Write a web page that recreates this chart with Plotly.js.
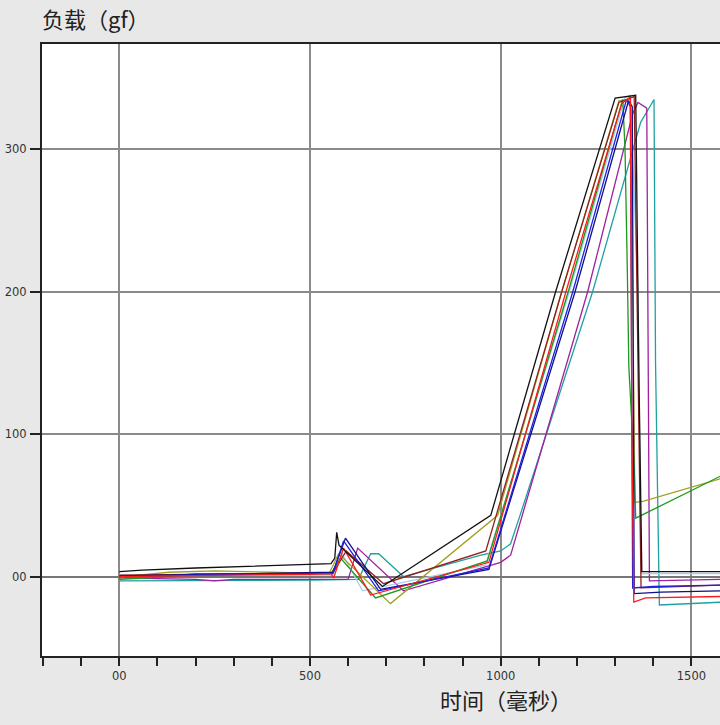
<!DOCTYPE html>
<html>
<head>
<meta charset="utf-8">
<script src="https://cdn.plot.ly/plotly-3.0.1.min.js"></script>
<style>html,body{margin:0;padding:0;background:#e8e8e8;}#chart{width:720px;height:725px;}</style>
</head>
<body>
<div id="chart"></div>
<script>
// Tick labels
const xTickVals = [0, 500, 1000, 1500];
const xTickText = ['00', '500', '1000', '1500'];
const yTickVals = [0, 100, 200, 300];
const yTickText = ['00', '100', '200', '300'];

// Series (time ms, load gf)
const blackT = [0, 60, 200, 410, 500, 555, 565, 570, 576, 690, 974, 1144, 1300, 1354, 1362, 1370, 1580];
const blackV = [3.5, 4.5, 6, 7.5, 8.5, 9, 13, 31, 22, -7, 43, 200, 336, 338, 150, 3.5, 3.5];

const oliveT = [0, 10, 130, 250, 400, 550, 575, 711, 992, 1160, 1310, 1340, 1346, 1352, 1375, 1580];
const oliveV = [-3, 0, 3, 4, 3, 2, 16, -19, 43, 200, 334, 335, 200, 52, 53, 69];

const greenT = [0, 80, 200, 400, 555, 580, 672, 965, 1177, 1320, 1326, 1332, 1336, 1350, 1354, 1580];
const greenV = [-2, -1, 2, 2, 2, 13, -15, 11, 200, 335, 300, 215, 147, 77, 41, 71];

const redT = [0, 100, 300, 500, 555, 562, 588, 659, 969, 1171, 1317, 1340, 1344, 1349, 1380, 1580];
const redV = [0, 0.5, 1, 1.5, 2, -1, 20, -13, 10, 200, 332, 337, 100, -18, -15, -14];

const blueT = [0, 150, 300, 500, 560, 588, 680, 969, 1189, 1330, 1340, 1346, 1400, 1580];
const blueV = [0, 1, 1.5, 2, 2, 25, -10, 6, 200, 335, 330, -8, -7, -6];

const navyT = [0, 200, 500, 560, 593, 685, 969, 1195, 1335, 1345, 1350, 1420, 1580];
const navyV = [0.5, 1.5, 2.5, 3, 27, -9, 5, 200, 334, 330, -12, -11, -10];

const darkredT = [0, 200, 500, 560, 595, 693, 961, 1160, 1310, 1350, 1360, 1368, 1580];
const darkredV = [1, 1.5, 2, 2.5, 18, -5, 18, 200, 333, 337, 150, -8, -6];

const tealT = [0, 200, 400, 500, 627, 659, 680, 745, 948, 1000, 1026, 1052, 1241, 1367, 1402, 1406, 1416, 1580];
const tealV = [-3, -3, -3, -2.5, -2, 16, 16, 0, 15, 18, 23, 44, 200, 319, 335, 150, -20, -18];

const purpleT = [0, 200, 250, 300, 480, 600, 625, 745, 1000, 1026, 1228, 1346, 1360, 1383, 1390, 1580];
const purpleV = [-1, -2, -3, -2, -2, -2, 20, -10, 10, 15, 200, 325, 333, 329, -3, -2];

const lightblueT = [0, 500, 560, 580, 638, 960, 1180, 1325, 1340, 1360, 1368, 1580];
const lightblueV = [1, 1, 1, 18, -10, 8, 200, 336, 338, 200, 2, 2];

const seriesList = [
  {t: tealT, v: tealV, c: '#20a0a0'},
  {t: purpleT, v: purpleV, c: '#a020a0'},
  {t: lightblueT, v: lightblueV, c: '#a8ccf0'},
  {t: oliveT, v: oliveV, c: '#a0a020'},
  {t: greenT, v: greenV, c: '#1a9a1a'},
  {t: darkredT, v: darkredV, c: '#902020'},
  {t: navyT, v: navyV, c: '#10108a'},
  {t: blueT, v: blueV, c: '#2020e0'},
  {t: redT, v: redV, c: '#ff1a1a'},
  {t: blackT, v: blackV, c: '#111111'}
];

const traces = seriesList.map(s => ({
  type: 'scatter', mode: 'lines', x: s.t, y: s.v,
  line: {color: s.c, width: 1.3}, showlegend: false, hoverinfo: 'skip'
}));

const tickFont = {family: 'DejaVu Sans', size: 11.5, color: '#333333'};
const cjk = "'Noto Sans CJK SC', sans-serif";

const layout = {
  width: 720, height: 725,
  paper_bgcolor: '#e8e8e8', plot_bgcolor: '#ffffff',
  margin: {l: 42, r: 0, t: 44, b: 69, pad: 0},
  xaxis: {
    range: [-202.7, 1575], tickmode: 'array', tickvals: xTickVals, ticktext: xTickText,
    ticks: 'outside', ticklen: 8, tickwidth: 2, tickcolor: '#222',
    minor: {tickmode: 'linear', tick0: 0, dtick: 100, ticks: 'outside', ticklen: 8, tickwidth: 2, tickcolor: '#222', showgrid: false},
    showgrid: true, gridcolor: '#8a8a8a', gridwidth: 2,
    zeroline: false, showline: true, linecolor: '#222', linewidth: 2, mirror: true,
    tickfont: tickFont, ticklabelstandoff: 0
  },
  yaxis: {
    range: [-55.8, 374], tickmode: 'array', tickvals: yTickVals, ticktext: yTickText,
    ticks: 'outside', ticklen: 10, tickwidth: 2, tickcolor: '#222',
    showgrid: true, gridcolor: '#8a8a8a', gridwidth: 2,
    zeroline: true, zerolinecolor: '#777', zerolinewidth: 2,
    showline: true, linecolor: '#222', linewidth: 2,
    tickfont: tickFont, ticklabelstandoff: 1
  },
  annotations: [
    {text: '负载（gf）', xref: 'paper', yref: 'paper', x: -0.003, y: 1.0425,
     xanchor: 'left', yanchor: 'middle', showarrow: false,
     font: {family: cjk, size: 22, color: '#222'}},
    {text: '时间（毫秒）', xref: 'paper', yref: 'paper', x: 0.685, y: -0.071,
     xanchor: 'center', yanchor: 'middle', showarrow: false,
     font: {family: cjk, size: 22, color: '#222'}}
  ]
};

Plotly.newPlot('chart', traces, layout, {displayModeBar: false, staticPlot: true});
</script>
</body>
</html>
